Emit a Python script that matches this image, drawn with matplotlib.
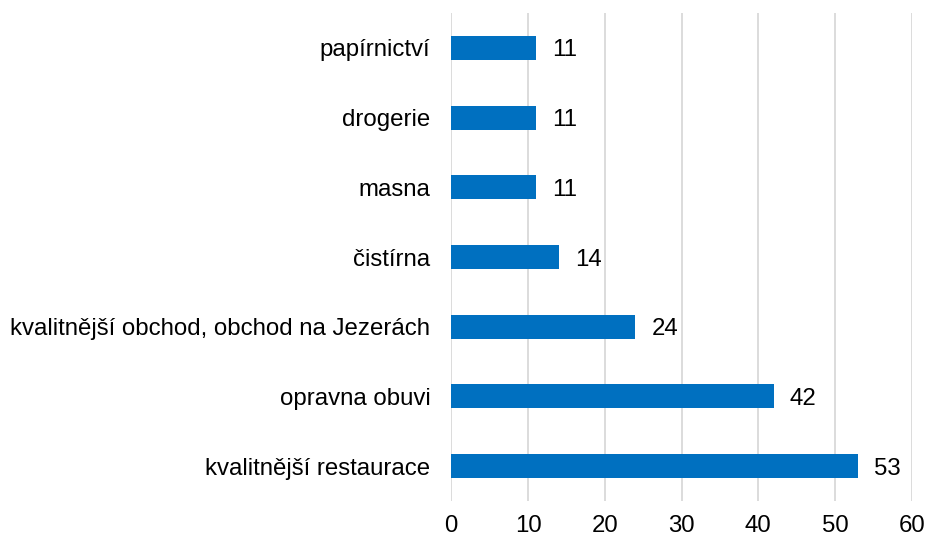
import matplotlib
matplotlib.use("Agg")
import matplotlib.pyplot as plt

categories = ["kvalitnější restaurace", "opravna obuvi",
              "kvalitnější obchod, obchod na Jezerách", "čistírna",
              "masna", "drogerie", "papírnictví"]
values = [53, 42, 24, 14, 11, 11, 11]
xticks = [0, 10, 20, 30, 40, 50, 60]

plt.rcParams['font.family'] = ['Liberation Sans', 'DejaVu Sans']
fs = 17.3

fig = plt.figure(figsize=(9.28, 5.40), dpi=100)
ax = fig.add_axes([451.3/928, 39/540, (911.7-451.3)/928, 488/540])
ypos = list(range(len(categories)))
bars = ax.barh(ypos, values, height=0.345, color='#0070C0', zorder=3)
for y, v in zip(ypos, values):
    ax.annotate(str(v), (v, y), xytext=(11.5, 0), textcoords='offset points',
                va='center_baseline', ha='left', fontsize=fs, color='#000000')
ax.set_xlim(0, 60)
ax.set_ylim(-0.5, len(categories) - 0.5)
ax.set_xticks(xticks)
ax.set_xticklabels([str(t) for t in xticks])
ax.set_yticks(ypos)
ax.set_yticklabels(categories)
for lbl in ax.get_yticklabels():
    lbl.set_verticalalignment('center_baseline')
ax.tick_params(axis='both', length=0, labelsize=fs, colors='#000000')
ax.tick_params(axis='y', pad=15)
ax.tick_params(axis='x', pad=10)
ax.grid(axis='x', color='#D9D9D9', linewidth=1.3, zorder=0)
for s in ax.spines.values():
    s.set_visible(False)
fig.savefig('out.png', dpi=100)
